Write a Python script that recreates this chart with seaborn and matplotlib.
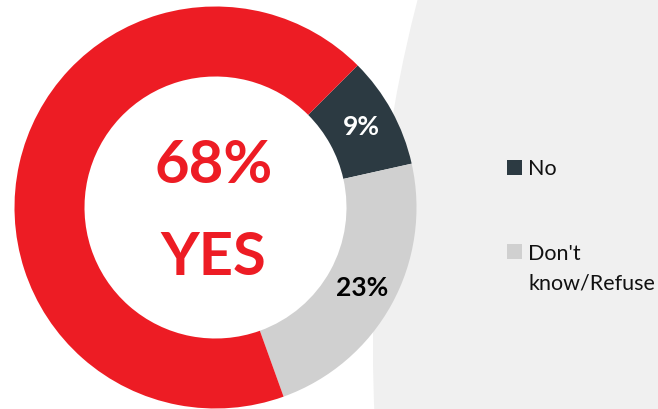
import matplotlib
matplotlib.use("Agg")
import matplotlib.pyplot as plt
from matplotlib.patches import Circle, Rectangle
import seaborn as sns

# answers, clockwise from the upper right
labels = ["No", "Don't\nknow/Refuse", "Yes"]
shares = [9, 23, 68]
colors = ["#2c3a42", "#d0d0d0", "#ed1c24"]
pct_colors = ["white", "black", "white"]

sns.set_theme(style="white")
plt.rcParams["font.family"] = ["Lato", "DejaVu Sans"]

W, H = 658, 409
fig = plt.figure(figsize=(W / 100, H / 100), dpi=100)
ax = fig.add_axes([0, 0, 1, 1])

# pale slide background on the right
ax.add_patch(Circle((373 + 1400, H - 350), 1400, color="#f0f0f0", lw=0, zorder=0))

cx, cy, r = 215.5, H - 207.5, 201
wedges, _, pcts = ax.pie(
    shares, colors=colors, startangle=45, counterclock=False,
    radius=r, center=(cx, cy), wedgeprops=dict(width=70, linewidth=0),
    autopct=lambda p: "" if p > 50 else f"{p:.0f}%", pctdistance=0.83,
    textprops=dict(fontsize=19, fontweight="bold"))
for t, c in zip(pcts, pct_colors):
    t.set_color(c)

# big label in the hole
ax.text(cx - 2, cy + 24.5, f"{shares[2]}%", ha="center", va="baseline",
        fontsize=43, fontweight="bold", color=colors[2])
ax.text(cx - 2, cy - 67.5, labels[2].upper(), ha="center", va="baseline",
        fontsize=43, fontweight="bold", color=colors[2])

# legend (only the two minority answers); first text line sits on the square's bottom
for i in range(2):
    top = 160 + 84 * i
    nlines = labels[i].count("\n")
    ax.add_patch(Rectangle((507, H - top - 15), 15, 15, color=colors[i], lw=0))
    ax.text(528, H - top - 15 - 30 * nlines, labels[i], ha="left", va="baseline",
            fontsize=15.5, color="#111111", linespacing=1.55)

ax.set_xlim(0, W)
ax.set_ylim(0, H)
ax.axis("off")
fig.savefig("out.png", dpi=100)
